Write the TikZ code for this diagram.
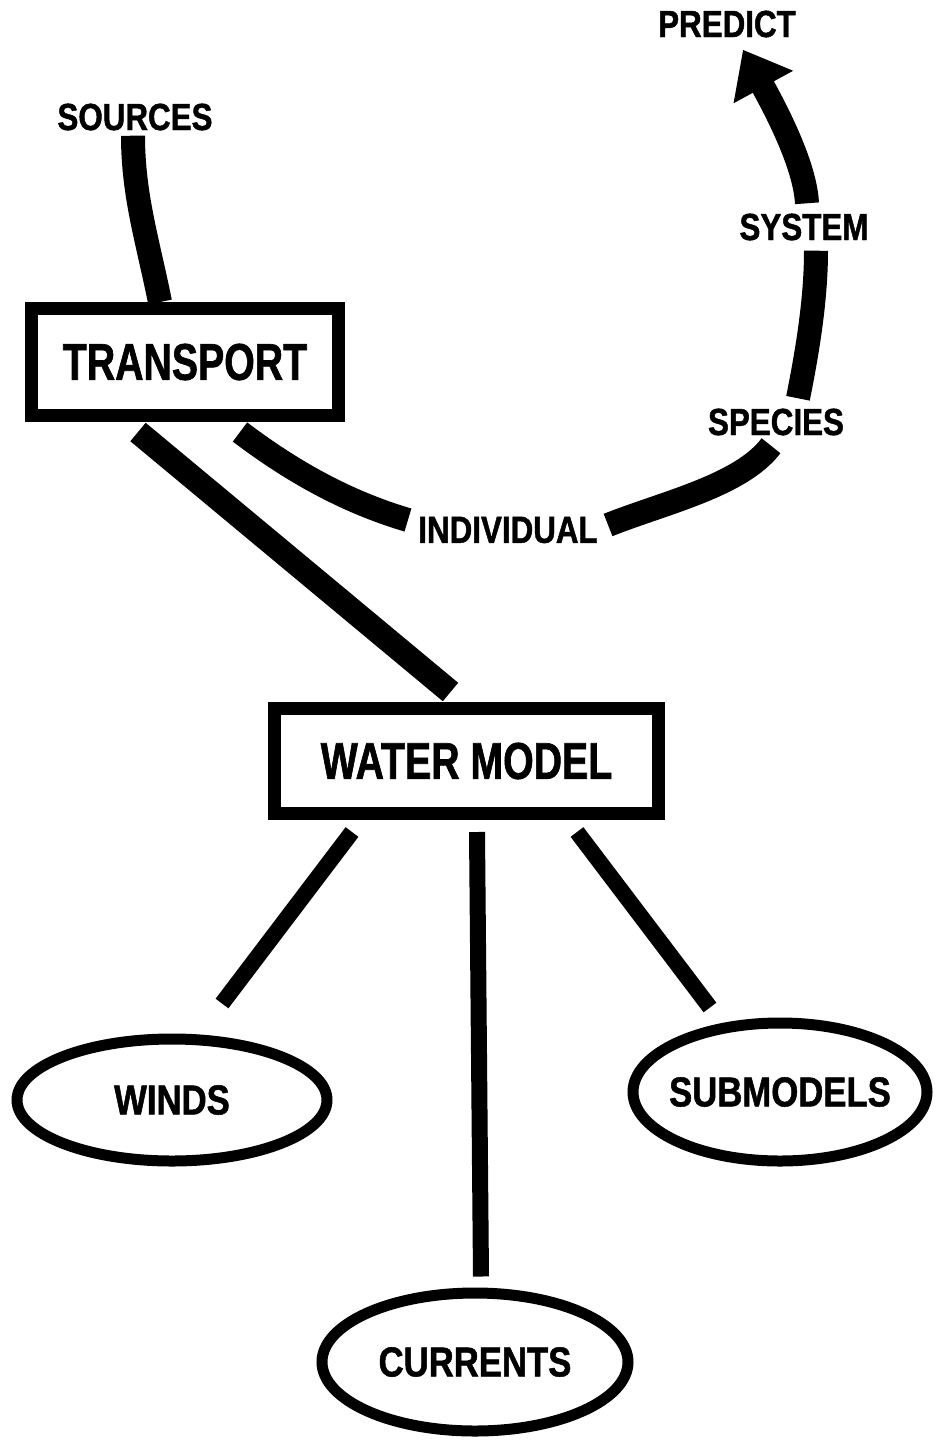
\documentclass[tikz,border=0pt]{standalone}
\usepackage{fontspec}
\newfontfamily\boxfont{Liberation Sans}[FakeStretch=0.76,FakeBold=1.2]
\newfontfamily\tagfont{Liberation Sans}[FakeStretch=0.83,FakeBold=1.2]
\usetikzlibrary{shapes.geometric,arrows.meta}
\def\px{0.02cm}

\begin{document}
\begin{tikzpicture}[x=0.02cm,y=-0.02cm,
	box/.style={draw,line width=13*\px,minimum width=307*\px,minimum height=107*\px,inner sep=0pt,font=\boxfont\bfseries\fontsize{29.4}{30}\selectfont},
	oval/.style={draw,ellipse,line width=11*\px,inner sep=0pt,inner xsep=-12*\px,font=\tagfont\bfseries\fontsize{23.8}{24}\selectfont},
	tag/.style={inner sep=10*\px,font=\tagfont\bfseries\fontsize{21.5}{22}\selectfont},
	band/.style={line width=24*\px},
	leg/.style={line width=16*\px}]
\useasboundingbox (0,0) rectangle (940,1441);

\node[box] (transport) at (185,362) {TRANSPORT};
\node[box,minimum width=384*\px,minimum height=105*\px] (water) at (466.5,761) {WATER MODEL};

\foreach \n/\x/\y/\w/\h/\t in {winds/172/1100/310/122/WINDS,submodels/780/1092/294/138/SUBMODELS,currents/475/1362/306/138/CURRENTS}
	\node[oval,minimum width=\w*\px,minimum height=\h*\px] (\n) at (\x,\y) {\t};

\foreach \n/\x/\y/\t in {predict/727/24/PREDICT,sources/135/117/SOURCES,system/804/227/SYSTEM,species/776/422/SPECIES,individual/508/530/INDIVIDUAL}
	\node[tag] (\n) at (\x,\y) {\t};

% legs below the water model
\foreach \n/\a/\b/\c in {winds/-114.5/50/30,currents/10.5/6/11,submodels/110.5/-70/10}
	\draw[leg]([xshift=\a*\px,yshift=-12*\px]water.south)--([xshift=\b*\px,yshift=\c*\px]\n.north);

\draw[band]([xshift=-2*\px,yshift=5*\px]sources.south)..controls +(0,60) and +(-12,-60)..([xshift=-25*\px]transport.north);
\draw[band]([xshift=-47*\px,yshift=-10*\px]transport.south)--([xshift=-16*\px,yshift=10*\px]water.north);

% individual -> species -> system -> predict
\draw[band]([xshift=55*\px,yshift=-10*\px]transport.south)..controls +(45,34) and +(-68,-20)..([yshift=10*\px]individual.west);
\draw[band]([yshift=5*\px]individual.east)..controls +(55,-22) and +(-30,40)..([xshift=-5*\px]species.south);
\draw[band]([xshift=22*\px]species.north)..controls +(9,-45) and +(0,50)..([xshift=12*\px]system.south);
\draw[band,-{Triangle[length=0.85cm,width=1.3cm]}]([xshift=3*\px]system.north)..controls +(-2,-40) and +(30,55)..([xshift=16*\px,yshift=-2*\px]predict.south);

\end{tikzpicture}
\end{document}
